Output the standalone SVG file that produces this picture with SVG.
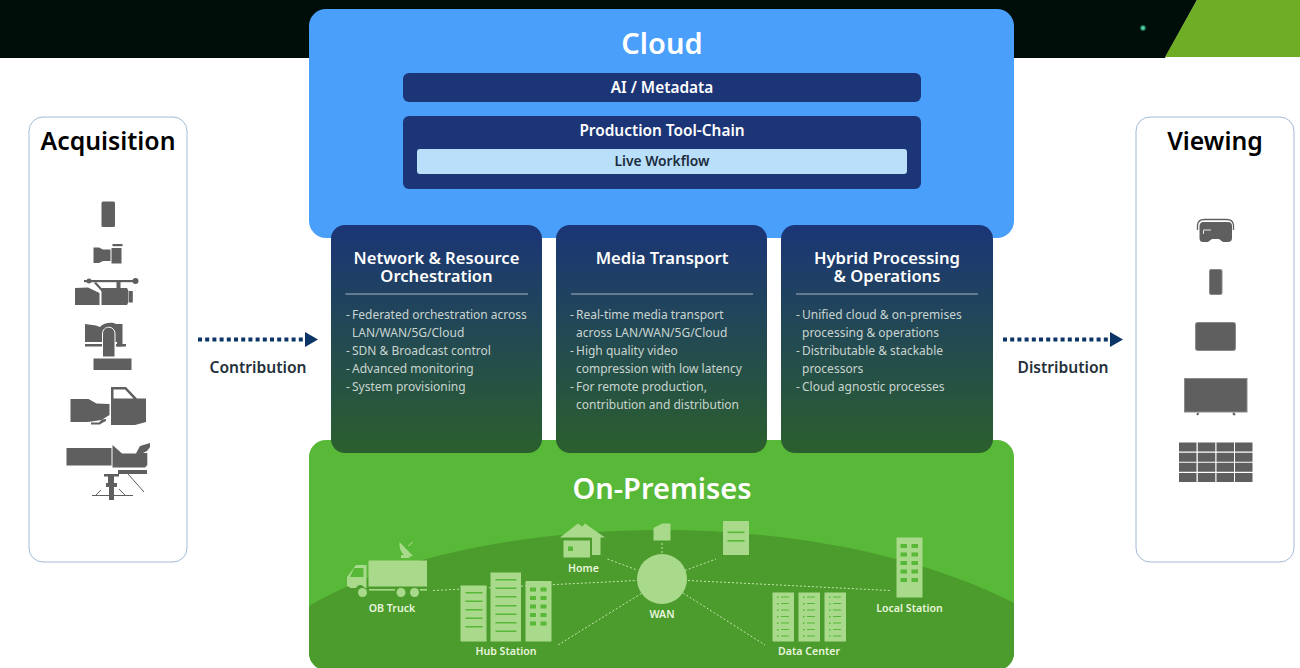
<svg xmlns="http://www.w3.org/2000/svg" width="1300" height="668" viewBox="0 0 1300 668">
<style>
text{font-family:"Noto Sans","Open Sans","Liberation Sans",sans-serif}
.t{text-anchor:middle;font-weight:600}
.big{font-size:29px;fill:#fff}
.side{font-size:24.8px;fill:#000}
.head{font-size:16.6px;fill:#fff}
.sub{font-size:15.4px;fill:#fff}
.body{font-size:12px;fill:#c9d4d0}
.lab{font-size:13.8px;fill:#1c2c3c}
.arr{font-size:15.6px;fill:#25303a}
.site{font-size:10.6px;fill:#e8f5dc}
.ic{fill:#5f5f5f}
.g{fill:#a9da8c}
.w{fill:#58b837}
.panel{fill:#fff;stroke:#a3bad6;stroke-width:1}
.rule{stroke:#a5b3bf;stroke-width:1.2}
.dot{stroke:#c5e5ae;stroke-width:1;stroke-dasharray:2 2;fill:none}
.flow{stroke:#0b3566;stroke-width:4;stroke-dasharray:4 3.2;fill:none}
</style>
<defs>
<linearGradient id="card" x1="0" y1="0" x2="0" y2="1"><stop offset="0" stop-color="#1b3577"/><stop offset="1" stop-color="#2b5f2d"/></linearGradient>
<clipPath id="prem"><rect x="309" y="440" width="705" height="230" rx="17"/></clipPath>
<radialGradient id="star"><stop offset="0" stop-color="#7fe8c4"/><stop offset=".5" stop-color="#2fa583"/><stop offset="1" stop-color="#001009"/></radialGradient>
</defs>
<rect width="1300" height="668" fill="#fff"/>
<g id="banner">
<polygon points="0,0 1197,0 1165,58 0,58" fill="#000e0a"/>
<polygon points="1197,0 1300,0 1300,57 1165,57" fill="#6fad24"/>
<circle cx="1143" cy="28" r="3.5" fill="url(#star)"/>
</g>

<g id="on-premises">
<rect x="309" y="440" width="705" height="230" rx="17" fill="#58b837"/>
<path clip-path="url(#prem)" d="M309 606C400 552 540 530 662 530C790 530 920 555 1014 603V670H309Z" fill="#4b9c2d"/>
<text class="t big" x="662" y="499">On-Premises</text>
</g>

<g id="cloud">
<rect x="309" y="9" width="705" height="229" rx="17" fill="#4a9ffb"/>
<text class="t big" x="662" y="54">Cloud</text>
</g>
<g id="ai-metadata">
<rect x="403" y="73" width="518" height="29" rx="6" fill="#1b3577"/>
<text class="t sub" x="662" y="93">AI / Metadata</text>
</g>
<g id="production-tool-chain">
<rect x="403" y="116" width="518" height="73" rx="6" fill="#1b3577"/>
<text class="t sub" x="662" y="136">Production Tool-Chain</text>
</g>
<g id="live-workflow">
<rect x="417" y="149" width="490" height="25" rx="3" fill="#b9dffa"/>
<text class="t lab" x="662" y="166">Live Workflow</text>
</g>

<g id="network-resource">
<rect x="331" y="225" width="211" height="228" rx="14" fill="url(#card)"/>
<text class="t head"><tspan x="436.500" y="264">Network &amp; Resource</tspan><tspan x="436.500" y="282">Orchestration</tspan></text>
<line class="rule" x1="345.500" y1="294" x2="528" y2="294"/>
<text class="body" x="346" y="318.500">-</text><text class="body" x="352" y="318.500">Federated orchestration across</text>
<text class="body" x="352" y="336.500">LAN/WAN/5G/Cloud</text>
<text class="body" x="346" y="354.500">-</text><text class="body" x="352" y="354.500">SDN &amp; Broadcast control</text>
<text class="body" x="346" y="372.500">-</text><text class="body" x="352" y="372.500">Advanced monitoring</text>
<text class="body" x="346" y="390.500">-</text><text class="body" x="352" y="390.500">System provisioning</text>
</g>
<g id="media-transport">
<rect x="556" y="225" width="211" height="228" rx="14" fill="url(#card)"/>
<text class="t head" x="662" y="264">Media Transport</text>
<line class="rule" x1="571" y1="294" x2="753" y2="294"/>
<text class="body" x="570" y="318.500">-</text><text class="body" x="576" y="318.500">Real-time media transport</text>
<text class="body" x="576" y="336.500">across LAN/WAN/5G/Cloud</text>
<text class="body" x="570" y="354.500">-</text><text class="body" x="576" y="354.500">High quality video</text>
<text class="body" x="576" y="372.500">compression with low latency</text>
<text class="body" x="570" y="390.500">-</text><text class="body" x="576" y="390.500">For remote production,</text>
<text class="body" x="576" y="408.500">contribution and distribution</text>
</g>
<g id="hybrid-processing">
<rect x="781" y="225" width="212" height="228" rx="14" fill="url(#card)"/>
<text class="t head"><tspan x="887" y="264">Hybrid Processing</tspan><tspan x="887" y="282">&amp; Operations</tspan></text>
<line class="rule" x1="796" y1="294" x2="978" y2="294"/>
<text class="body" x="796" y="318.500">-</text><text class="body" x="802" y="318.500">Unified cloud &amp; on-premises</text>
<text class="body" x="802" y="336.500">processing &amp; operations</text>
<text class="body" x="796" y="354.500">-</text><text class="body" x="802" y="354.500">Distributable &amp; stackable</text>
<text class="body" x="802" y="372.500">processors</text>
<text class="body" x="796" y="390.500">-</text><text class="body" x="802" y="390.500">Cloud agnostic processes</text>
</g>

<g id="acquisition">
<rect class="panel" x="29" y="117" width="158" height="445" rx="14"/>
<text class="t side" x="108" y="150">Acquisition</text>
<g id="acq-phone"><rect class="ic" x="101.500" y="201.500" width="13.500" height="25.500" rx="1.500"/></g>
<g id="acq-small-camera">
<polygon class="ic" points="93.500,247.500 99,247.500 103,249.500 110.500,249.500 110.500,261 103,261 99,263 93.500,263"/>
<rect class="ic" x="111.500" y="248" width="10" height="15.500"/><rect class="ic" x="112.500" y="244" width="10" height="2.200"/>
</g>
<g id="acq-camcorder">
<rect class="ic" x="84" y="280" width="50" height="2.200"/><circle class="ic" cx="135.500" cy="281" r="3"/><circle class="ic" cx="89" cy="281" r="2.500"/>
<polygon class="ic" points="75,288 88,287.500 99.500,293 99.500,305 75,305"/>
<polygon class="ic" points="96,282 106,293 103,293 94,283"/><rect class="ic" x="116.500" y="282" width="4" height="6"/>
<path class="ic" d="M101.500 288H127L128.500 291V302L127 305H101.500Z"/><rect class="ic" x="129" y="291" width="3.800" height="11.500"/>
</g>
<g id="acq-ptz">
<path class="ic" d="M85 324L96 325.500L100 327C104 322 113 322 116 324H122.500V346.500H117V342H85Z"/>
<rect class="ic" x="85" y="344" width="17" height="2.500"/>
<rect class="ic" x="116" y="344" width="10" height="2.500"/>
<path class="ic" d="M102.500 357V334C102.500 325 115 325 115 334V357Z" stroke="#fff" stroke-width="1"/>
<rect class="ic" x="93.500" y="358.500" width="38" height="11.500"/>
</g>
<g id="acq-shoulder">
<polygon class="ic" points="70.500,399 88.500,399 96.500,403.500 109.500,404 109.500,415 101.500,420 88,422 70.500,422"/>
<path class="ic" d="M102 419.500L106 419V421L102 423L100 424.500H91V422.500H99Z"/>
<path class="ic" fill-rule="evenodd" d="M111 387H126L137 398.500H146V422L135 425H111ZM113.500 389.500V398.500H133.500L125 389.500Z"/>
</g>
<g id="acq-studio">
<rect class="ic" x="66.500" y="448" width="45" height="17.500"/>
<path class="ic" d="M112.500 445L122 453.500H136L140 446L150 443V447L147 451L143 453H147.300V465L145 467.500H112.500Z"/>
<rect class="ic" x="118" y="470" width="29" height="4"/>
<rect class="ic" x="104" y="474" width="15" height="2.500"/>
<polygon class="ic" points="108,476 114,476 114,483 117,483 117,487 114,487 114,500 109,500 109,487 106,487 106,483 108,483"/>
<path d="M92 495.500H133M101 490L96 495M119 489L125 495M128 474L144 492" stroke="#5f5f5f" stroke-width="1" fill="none"/>
</g>
</g>

<g id="viewing">
<rect class="panel" x="1136" y="117" width="158" height="445" rx="14"/>
<text class="t side" x="1215" y="150">Viewing</text>
<g id="view-vr">
<path d="M1197.500 230V225C1198 221 1201 219.500 1204 219.500H1227C1230 219.500 1233 221 1233.500 225V230" fill="none" stroke="#5f5f5f" stroke-width="1.300"/>
<path class="ic" d="M1203 222H1228C1231 222 1232 224 1232 226V238C1232 241 1230 242 1228 242H1223L1219 239H1212L1208 242H1203C1201 242 1199.500 241 1199.500 238V226C1199.500 224 1201 222 1203 222Z"/>
<path d="M1203.500 234V230H1211" stroke="#e8e8e8" stroke-width="1" fill="none"/>
</g>
<g id="view-phone"><rect class="ic" x="1209.500" y="269.500" width="12.500" height="25" rx="1.500" stroke="#8a8a8a"/></g>
<g id="view-tablet"><rect class="ic" x="1195.500" y="322.500" width="40" height="28" rx="2" stroke="#8a8a8a"/></g>
<g id="view-tv">
<rect class="ic" x="1184.500" y="378.500" width="62.500" height="33.500" stroke="#8a8a8a"/>
<path d="M1198.500 413L1197 415M1233 413L1235 415" stroke="#5f5f5f" stroke-width="2"/>
</g>
<g id="view-wall">
<path class="ic" d="M1179 442.500h17.500v9h-17.500zM1197.800 442.500h17.500v9h-17.500zM1216.500 442.500h17.500v9h-17.500zM1235 442.500h17.500v9h-17.500zM1179 452.800h17.500v9h-17.500zM1197.800 452.800h17.500v9h-17.500zM1216.500 452.800h17.500v9h-17.500zM1235 452.800h17.500v9h-17.500zM1179 462.800h17.500v9h-17.500zM1197.800 462.800h17.500v9h-17.500zM1216.500 462.800h17.500v9h-17.500zM1235 462.800h17.500v9h-17.500zM1179 473h17.500v9h-17.500zM1197.800 473h17.500v9h-17.500zM1216.500 473h17.500v9h-17.500zM1235 473h17.500v9h-17.500z"/>
</g>
</g>

<g id="connectors">
<line class="flow" x1="198" y1="339.500" x2="305" y2="339.500"/>
<polygon points="305,332 318,339.500 305,347" fill="#0b3566"/>
<text class="t arr" x="258" y="372.500">Contribution</text>
<line class="flow" x1="1003" y1="339.500" x2="1110" y2="339.500"/>
<polygon points="1110,332 1123,339.500 1110,347" fill="#0b3566"/>
<text class="t arr" x="1063" y="372.500">Distribution</text>
<line class="dot" x1="607.500" y1="559" x2="637" y2="570"/>
<line class="dot" x1="433" y1="590.500" x2="637" y2="580.500"/>
<line class="dot" x1="558" y1="645" x2="642" y2="593"/>
<line class="dot" x1="662" y1="543" x2="662" y2="553"/>
<line class="dot" x1="685" y1="570.500" x2="716" y2="559"/>
<line class="dot" x1="688" y1="580.500" x2="890" y2="590.500"/>
<line class="dot" x1="683" y1="593" x2="765" y2="645"/>
</g>

<g id="wan"><circle class="g" cx="662" cy="579" r="25"/><text class="t site" x="662" y="617.500">WAN</text></g>
<g id="ob-truck">
<rect class="g" x="368.500" y="560.500" width="58.500" height="26"/>
<path class="g" d="M356 565H366.500V588H365C362 584 358 584 356 588H351L347 586V577Z"/>
<polygon points="354,568 363.500,568 363.500,577 350,577" fill="#58b837"/>
<rect class="g" x="369" y="589" width="26" height="1.600"/><rect class="g" x="420" y="589" width="7" height="1.600"/>
<circle class="g" cx="362.500" cy="592.500" r="4.500"/><circle class="g" cx="401" cy="592.500" r="4.500"/><circle class="g" cx="414.500" cy="592.500" r="4.500"/>
<path class="g" d="M399.500 542C399 552 404 558 413 556Z"/><polygon class="g" points="401,555 408,555 410,558 401,558"/><line x1="408" y1="546" x2="413" y2="542" stroke="#a9da8c" stroke-width="1"/>
<text class="t site" x="392" y="611.500">OB Truck</text>
</g>
<g id="hub-station">
<rect class="g" x="460.500" y="585.500" width="26" height="56"/>
<rect class="g" x="490.500" y="572.500" width="30.500" height="69"/>
<rect class="g" x="525.500" y="581" width="26" height="60.500"/>
<path class="w" d="M465.500 592h17v1.600h-17zM465.500 600.500h17v1.600h-17zM465.500 609h17v1.600h-17zM465.500 617.500h17v1.600h-17zM465.500 626h17v1.600h-17zM495.500 579h21v1.600h-21zM495.500 587.500h21v1.600h-21zM495.500 596h21v1.600h-21zM495.500 605h21v1.600h-21zM495.500 613.500h21v1.600h-21zM495.500 622h21v1.600h-21zM495.500 630.500h21v1.600h-21z"/>
<path class="w" d="M530 587.500h6v4h-6zM540.500 587.500h6v4h-6zM530 596h6v4h-6zM540.500 596h6v4h-6zM530 604.500h6v4h-6zM540.500 604.500h6v4h-6zM530 613h6v4h-6zM540.500 613h6v4h-6zM530 621.500h6v4h-6zM540.500 621.500h6v4h-6z"/>
<text class="t site" x="506" y="654.500">Hub Station</text>
</g>
<g id="home">
<polygon class="g" points="585,523.500 605,537.500 600.500,537.500 600.500,555 592,555 592,538 581,528"/>
<polygon class="g" points="578,523.500 560,537.500 596,537.500"/>
<rect class="g" x="563.500" y="540.500" width="26.500" height="17"/>
<rect x="568" y="546.500" width="5" height="4.500" fill="#58b837"/>
<text class="t site" x="583.500" y="571.500">Home</text>
</g>
<g id="edge-site"><polygon class="g" points="653.500,528 662,523.500 670.500,523.500 670.500,540.500 653.500,540.500"/></g>
<g id="document">
<rect class="g" x="723" y="521" width="26" height="34"/>
<rect class="w" x="727.500" y="531.500" width="17" height="1.600"/><rect class="w" x="727.500" y="540" width="17" height="1.600"/>
</g>
<g id="data-center">
<rect class="g" x="772.500" y="592.500" width="21.500" height="49"/><rect class="g" x="798.500" y="592.500" width="21.500" height="49"/><rect class="g" x="824.500" y="592.500" width="21.500" height="49"/>
<path id="dc-rows" class="w" d="M777 596.500h1.500v1.500h-1.500zM781 596.500h8v1h-8zM777 603h1.500v1.500h-1.500zM781 603h8v1h-8zM777 609.500h1.500v1.500h-1.500zM781 609.500h8v1h-8zM777 616h1.500v1.500h-1.500zM781 616h8v1h-8zM777 622.500h1.500v1.500h-1.500zM781 622.500h8v1h-8zM777 629h1.500v1.500h-1.500zM781 629h8v1h-8zM777 635.500h1.500v1.500h-1.500zM781 635.500h8v1h-8z"/>
<path class="w" transform="translate(26 0)" d="M777 596.500h1.500v1.500h-1.500zM781 596.500h8v1h-8zM777 603h1.500v1.500h-1.500zM781 603h8v1h-8zM777 609.500h1.500v1.500h-1.500zM781 609.500h8v1h-8zM777 616h1.500v1.500h-1.500zM781 616h8v1h-8zM777 622.500h1.500v1.500h-1.500zM781 622.500h8v1h-8zM777 629h1.500v1.500h-1.500zM781 629h8v1h-8zM777 635.500h1.500v1.500h-1.500zM781 635.500h8v1h-8z"/>
<path class="w" transform="translate(52 0)" d="M777 596.500h1.500v1.500h-1.500zM781 596.500h8v1h-8zM777 603h1.500v1.500h-1.500zM781 603h8v1h-8zM777 609.500h1.500v1.500h-1.500zM781 609.500h8v1h-8zM777 616h1.500v1.500h-1.500zM781 616h8v1h-8zM777 622.500h1.500v1.500h-1.500zM781 622.500h8v1h-8zM777 629h1.500v1.500h-1.500zM781 629h8v1h-8zM777 635.500h1.500v1.500h-1.500zM781 635.500h8v1h-8z"/>
<text class="t site" x="809" y="654.500">Data Center</text>
</g>
<g id="local-station">
<rect class="g" x="896.500" y="537.500" width="26" height="60"/>
<path class="w" d="M900.500 544h6.500v4h-6.500zM911.500 544h6.500v4h-6.500zM900.500 552.500h6.500v4h-6.500zM911.500 552.500h6.500v4h-6.500zM900.500 561h6.500v4h-6.500zM911.500 561h6.500v4h-6.500zM900.500 569.500h6.500v4h-6.500zM911.500 569.500h6.500v4h-6.500zM900.500 578h6.500v4h-6.500zM911.500 578h6.500v4h-6.500z"/>
<text class="t site" x="909.500" y="611.500">Local Station</text>
</g>
</svg>
